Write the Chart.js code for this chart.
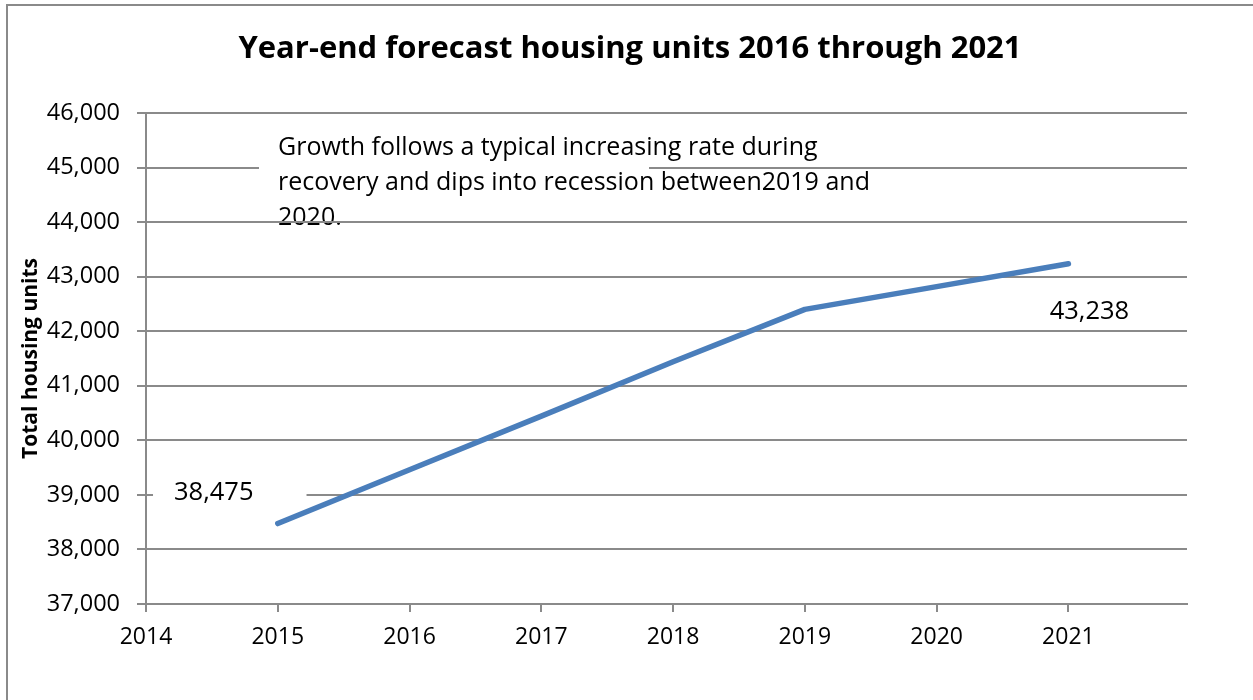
<!DOCTYPE html>
<html>
<head>
<meta charset="utf-8">
<title>Year-end forecast housing units</title>
<script src="https://cdn.jsdelivr.net/npm/chart.js@4/dist/chart.umd.min.js"></script>
<style>
  html, body { margin: 0; padding: 0; background: #ffffff; }
  #wrap { width: 1253px; height: 700px; position: relative; }
</style>
</head>
<body>
<div id="wrap"><canvas id="chart" width="1253" height="700"></canvas></div>
<script>
// Year-end housing units, forecast series
const years = [2015, 2016, 2017, 2018, 2019, 2020, 2021];
const housingUnits = [38475, 39460, 40444, 41440, 42400, 42817, 43238];

// Axis ticks
const yearTicks = [2014, 2015, 2016, 2017, 2018, 2019, 2020, 2021];
const unitTicks = [37000, 38000, 39000, 40000, 41000, 42000, 43000, 44000, 45000, 46000];

// Texts
const chartTitle = 'Year-end forecast housing units 2016 through 2021';
const yAxisTitle = 'Total housing units';
const noteLines = [
  'Growth follows a typical increasing rate during',
  'recovery and dips into recession between2019 and',
  '2020.'
];
// Points that carry a value label (first and last)
const labelledIndexes = [0, years.length - 1];

const FONT = '"Open Sans", "Noto Sans", sans-serif';
const GRID = '#8a8a8a';
const fmt = v => Number(v).toLocaleString('en-US');

// Frame, title and the note line that sits beneath the gridlines
const framePlugin = {
  id: 'frame',
  beforeDraw(chart) {
    const ctx = chart.ctx;
    ctx.save();
    ctx.fillStyle = '#ffffff';
    ctx.fillRect(0, 0, chart.width, chart.height);
    ctx.strokeStyle = GRID;
    ctx.lineWidth = 2;
    ctx.beginPath();
    ctx.moveTo(7, chart.height + 5);
    ctx.lineTo(7, 5);
    ctx.lineTo(chart.width + 5, 5);
    ctx.stroke();

    ctx.fillStyle = '#000000';
    ctx.textBaseline = 'middle';
    ctx.textAlign = 'center';
    ctx.font = 'bold 31px ' + FONT;
    ctx.fillText(chartTitle, 630, 49);

    ctx.textAlign = 'left';
    ctx.font = '25px ' + FONT;
    ctx.fillText(noteLines[2], 278, 218);
    ctx.restore();
  }
};

// Text box with the note and the value labels
const notesPlugin = {
  id: 'notes',
  beforeDatasetsDraw(chart) {
    const ctx = chart.ctx;
    const xs = chart.scales.x, ys = chart.scales.y;
    ctx.save();
    ctx.fillStyle = '#ffffff';
    ctx.fillRect(259, 128, 390, 72);
    ctx.font = '25px ' + FONT;
    ctx.fillStyle = '#000000';
    ctx.textBaseline = 'middle';
    ctx.textAlign = 'left';
    ctx.fillText(noteLines[0], 278, 148);
    ctx.fillText(noteLines[1], 278, 183);

    // value labels: offset from the point; the first one sits on a white box
    const place = [
      { dx: -64, dy: -31, box: true, padL: 21, padR: 53 },
      { dx: 21, dy: 48, box: false, padL: 0, padR: 0 }
    ];
    labelledIndexes.forEach((idx, k) => {
      const px = xs.getPixelForValue(years[idx]);
      const py = ys.getPixelForValue(housingUnits[idx]);
      const p = place[k];
      const cx = px + p.dx;
      const cy = py + p.dy;
      const text = fmt(housingUnits[idx]);
      ctx.font = '25.5px ' + FONT;
      const w = ctx.measureText(text).width;
      if (p.box) {
        ctx.fillStyle = '#ffffff';
        ctx.fillRect(cx - w / 2 - p.padL, cy - 17, w + p.padL + p.padR, 34);
      }
      ctx.fillStyle = '#000000';
      ctx.textAlign = 'center';
      ctx.fillText(text, cx, cy);
    });
    ctx.restore();
  }
};

new Chart(document.getElementById('chart'), {
  type: 'line',
  data: {
    datasets: [{
      label: 'Housing units',
      data: years.map((yr, i) => ({ x: yr, y: housingUnits[i] })),
      borderColor: '#4a7ebb',
      borderWidth: 5.5,
      borderCapStyle: 'round',
      borderJoinStyle: 'round',
      pointRadius: 0,
      tension: 0,
      fill: false
    }]
  },
  options: {
    responsive: false,
    animation: false,
    devicePixelRatio: 1,
    layout: { padding: { top: 113, right: 66, bottom: 0, left: 0 } },
    plugins: {
      legend: { display: false },
      tooltip: { enabled: false },
      title: { display: false }
    },
    scales: {
      x: {
        type: 'linear',
        min: 2014,
        max: 2021.9,
        afterBuildTicks: s => { s.ticks = yearTicks.map(v => ({ value: v })); },
        afterFit: s => { s.height = 96; },
        ticks: {
          color: '#000000',
          font: { family: FONT, size: 23 },
          padding: 12,
          maxRotation: 0,
          callback: v => String(v)
        },
        grid: { drawOnChartArea: false, drawTicks: true, tickLength: 8, color: GRID, lineWidth: 2 },
        border: { color: GRID, width: 2 }
      },
      y: {
        min: 37000,
        max: 46000,
        afterBuildTicks: s => { s.ticks = unitTicks.map(v => ({ value: v })); },
        afterFit: s => { s.width = 146; },
        ticks: {
          color: '#000000',
          font: { family: FONT, size: 23.5 },
          padding: 17,
          callback: v => fmt(v)
        },
        grid: { color: GRID, lineWidth: 2, tickLength: 9 },
        border: { color: GRID, width: 2 },
        title: {
          display: true,
          text: yAxisTitle,
          color: '#000000',
          font: { family: FONT, size: 21, weight: 'bold' },
          padding: { top: 18.4, bottom: 0 }
        }
      }
    }
  },
  plugins: [framePlugin, notesPlugin]
});
</script>
</body>
</html>
